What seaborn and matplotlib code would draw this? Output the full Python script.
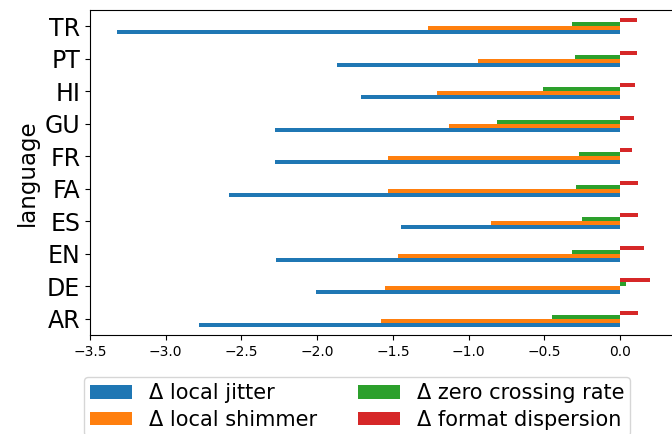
import matplotlib
matplotlib.use("Agg")
import matplotlib.pyplot as plt
import seaborn as sns
import pandas as pd

# values
languages = ['AR', 'DE', 'EN', 'ES', 'FA', 'FR', 'GU', 'HI', 'PT', 'TR']
local_jitter = [-2.78, -2.01, -2.27, -1.45, -2.58, -2.28, -2.28, -1.71, -1.87, -3.32]
local_shimmer = [-1.58, -1.55, -1.47, -0.85, -1.53, -1.53, -1.13, -1.21, -0.94, -1.27]
zero_crossing = [-0.45, 0.04, -0.32, -0.25, -0.29, -0.27, -0.81, -0.51, -0.30, -0.32]
format_dispersion = [0.12, 0.20, 0.16, 0.12, 0.12, 0.08, 0.09, 0.10, 0.11, 0.11]

series_names = ['Δ local jitter', 'Δ local shimmer',
                'Δ zero crossing rate', 'Δ format dispersion']
series_values = [local_jitter, local_shimmer, zero_crossing, format_dispersion]

# long form table for seaborn
rows = []
for name, vals in zip(series_names, series_values):
    for lang, v in zip(languages, vals):
        rows.append({'language': lang, 'feature': name, 'delta': v})
df = pd.DataFrame(rows)

colors = ['#1f77b4', '#ff7f0e', '#2ca02c', '#d62728']

fig = plt.figure(figsize=(6.72, 4.34), dpi=100)
ax = fig.add_axes([90 / 672, 1 - 335 / 434, 587 / 672, 325 / 434])

sns.barplot(data=df, y='language', x='delta', hue='feature',
            order=languages, hue_order=series_names, palette=colors,
            orient='h', width=0.5, saturation=1, errorbar=None,
            linewidth=0, ax=ax)

# put AR at the bottom and the first series at the bottom of each group
ax.invert_yaxis()
ax.set_xlim(-3.5, 0.375)
ax.set_xticks([-3.5, -3.0, -2.5, -2.0, -1.5, -1.0, -0.5, 0.0])
ax.tick_params(axis='x', labelsize=10)
ax.tick_params(axis='y', labelsize=17)
ax.set_xlabel('')
ax.set_ylabel('language', fontsize=16.5)

handles, labels = ax.get_legend_handles_labels()
ax.legend(handles, labels, ncol=2, fontsize=15, loc='upper left',
          bbox_to_anchor=(84 / 672, 1 - 377 / 434),
          bbox_transform=fig.transFigure, borderaxespad=0,
          labelspacing=0.3, handleheight=0.6, borderpad=0.3)

fig.savefig('out.png', dpi=100)
